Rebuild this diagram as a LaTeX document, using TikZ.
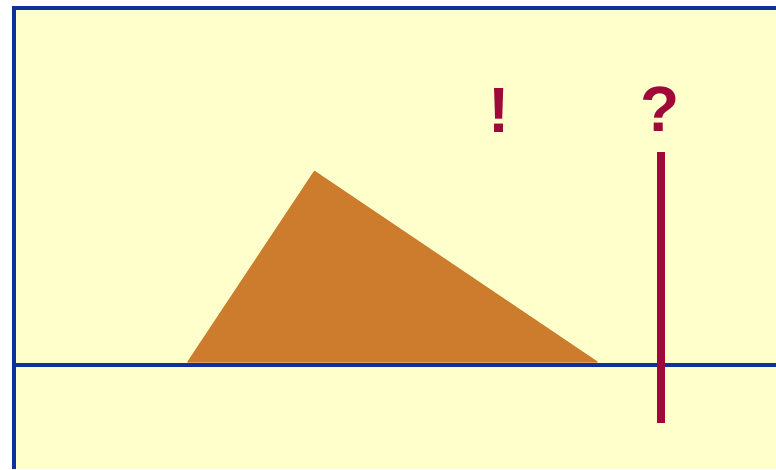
\documentclass[tikz,border=0pt]{standalone}
\usepackage{fontspec}
\setmainfont{Liberation Sans}
\definecolor{bg}{HTML}{FFFFCC}
\definecolor{frameblue}{HTML}{10309A}
\definecolor{tri}{HTML}{CD7B2D}
\definecolor{mark}{HTML}{A0083A}
\begin{document}
\begin{tikzpicture}[x=0.75pt,y=-0.75pt,
  bluestroke/.style={draw=frameblue,line width=3.2pt},
  marktext/.style={text=mark,font=\fontsize{48}{48}\selectfont\bfseries,inner sep=0pt,anchor=base}]
\useasboundingbox (0,0) rectangle (776,469);
\fill[white] (0,0) rectangle (776,469);
\fill[bg] (14,8) rectangle (776,469);
% frame
\draw[bluestroke] (14,469) -- (14,8) -- (776,8);
% ground line
\draw[draw=frameblue,line width=2.7pt] (14,365) -- (776,365);
% triangle
\fill[tri,draw=tri,line width=1pt,line join=round] (188,362) -- (314.5,171.5) -- (597,362) -- cycle;
% vertical red line
\draw[draw=mark,line width=6pt] (661,152) -- (661,422.5);
% marks
\node[marktext] (excl) at (499,132.7) {!};
\node[marktext] (quest) at (659.7,131.7) {?};
\end{tikzpicture}
\end{document}
